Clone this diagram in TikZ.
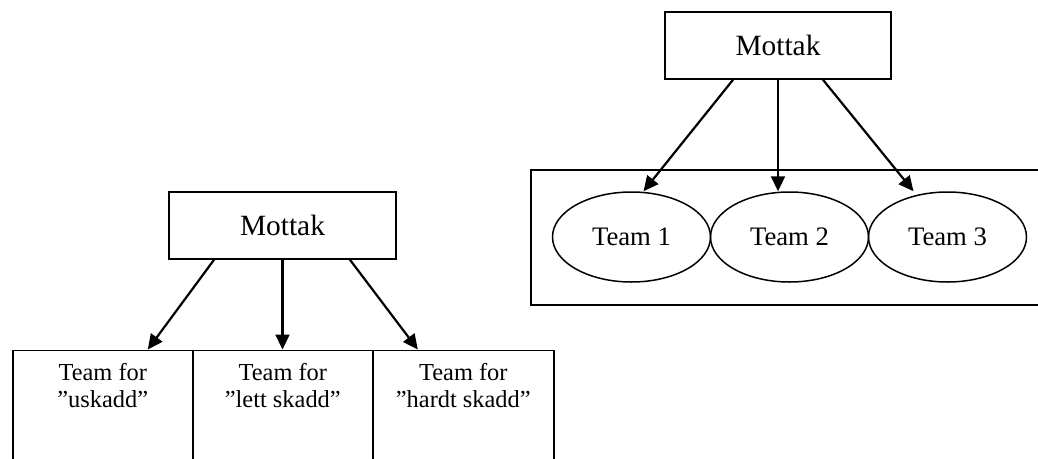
\documentclass[tikz,border=0pt]{standalone}
\usepackage{fontspec}
\setmainfont{Liberation Serif}
\usetikzlibrary{arrows.meta,calc,shapes.geometric}
\begin{document}
\begin{tikzpicture}[x=1pt,y=-1pt,
  box/.style={draw,line width=1.6pt,rectangle,inner sep=0pt},
  ell/.style={draw,line width=1.5pt,ellipse,inner sep=0pt,minimum width=158pt,minimum height=90pt,font=\fontsize{26.7}{30}\selectfont},
  conn/.style={line width=2.2pt,-{Triangle[length=15pt,width=14pt]}},
  lbl/.style={inner sep=0pt,align=center,font=\fontsize{24.4}{27}\selectfont}]
\useasboundingbox (0,0) rectangle (1038,458);
\clip (0,0) rectangle (1038,458);
% right group
\node[box,minimum width=226pt,minimum height=67pt,font=\fontsize{29.4}{32}\selectfont] (m2) at (778,45.5) {Mottak};
\node[box,anchor=north west,minimum width=530pt,minimum height=135pt] (grp) at (530,169) {};
\node[ell] (t1) at (631.5,237) {Team 1};
\node[ell] (t2) at (789.5,237) {Team 2};
\node[ell] (t3) at (947.5,237) {Team 3};
\draw[conn] ($(m2.south)+(-45,0)$) -- ($(t1.north)+(12,0)$);
\draw[conn] (m2.south) -- (m2.south |- t2.north);
\draw[conn] ($(m2.south)+(45,0)$) -- ($(t3.north)+(-34,0)$);
% left group
\node[box,minimum width=227pt,minimum height=67pt,font=\fontsize{29.4}{32}\selectfont] (m1) at (282.5,225.5) {Mottak};
\node[box,anchor=north west,minimum width=180pt,minimum height=130pt] (b1) at (12,349.5) {};
\node[box,anchor=north west,minimum width=180pt,minimum height=130pt] (b2) at (192,349.5) {};
\node[box,anchor=north west,minimum width=181pt,minimum height=130pt] (b3) at (372,349.5) {};
\node[lbl,anchor=north] (l1) at ($(b1.north)+(0,14)$) {Team for\\”uskadd”};
\node[lbl,anchor=north] (l2) at ($(b2.north)+(0,14)$) {Team for\\”lett skadd”};
\node[lbl,anchor=north] (l3) at ($(b3.north)+(0,14)$) {Team for\\”hardt skadd”};
\draw[conn] ($(m1.south)+(-68.5,0)$) -- ($(b1.north)+(45,0)$);
\draw[conn] (m1.south) -- (m1.south |- b2.north);
\draw[conn] ($(m1.south)+(67.5,0)$) -- ($(b3.north)+(-45.5,0)$);
\end{tikzpicture}
\end{document}
